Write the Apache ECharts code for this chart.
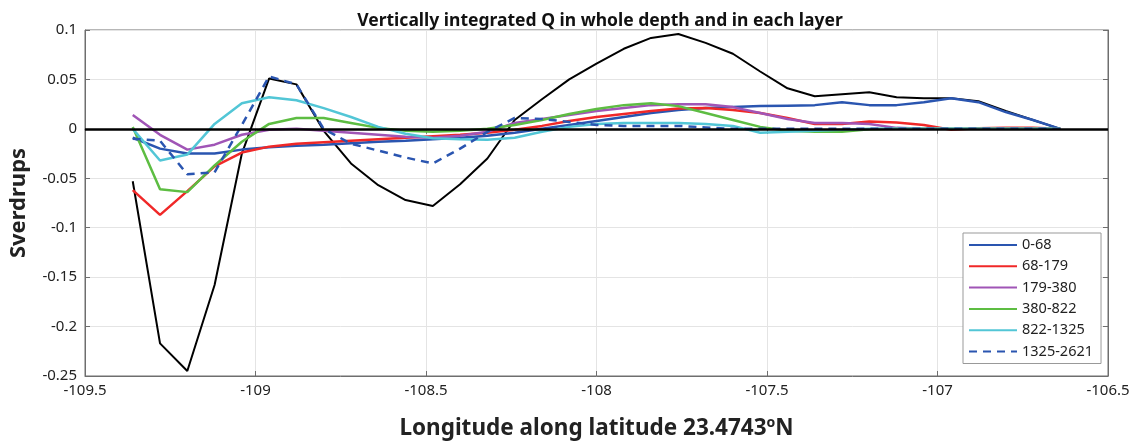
<!DOCTYPE html>
<html lang="en">
<head>
    <meta charset="UTF-8">
    <title>Vertically integrated Q</title>
    <script src="https://cdn.jsdelivr.net/npm/echarts@6/dist/echarts.min.js"></script>
</head>
<body style="margin:0;background:#fff;">
    <div id="main" style="width:1138px;height:445px;"></div>
    <script type="text/javascript">
        // longitudes along 23.4743N
        var lon = [-109.36, -109.28, -109.20, -109.12, -109.04, -108.96, -108.88, -108.80, -108.72,
                   -108.64, -108.56, -108.48, -108.40, -108.32, -108.24, -108.16, -108.08, -108.00,
                   -107.92, -107.84, -107.76, -107.68, -107.60, -107.52, -107.44, -107.36, -107.28,
                   -107.20, -107.12, -107.04, -106.96, -106.88, -106.80, -106.72, -106.64];

        // whole depth (black)
        var total = [-0.053, -0.217, -0.245, -0.158, -0.025, 0.051, 0.045, -0.002, -0.035, -0.057,
                     -0.072, -0.078, -0.056, -0.030, 0.009, 0.030, 0.050, 0.066, 0.081, 0.092,
                     0.096, 0.087, 0.076, 0.058, 0.041, 0.033, 0.035, 0.037, 0.032, 0.031,
                     0.031, 0.028, 0.018, 0.009, 0];

        var q0_68 = [-0.009, -0.020, -0.025, -0.025, -0.021, -0.0185, -0.017, -0.016, -0.0145, -0.013,
                     -0.012, -0.0105, -0.009, -0.007, -0.004, 0.000, 0.004, 0.008, 0.012, 0.016,
                     0.019, 0.021, 0.022, 0.023, 0.0235, 0.024, 0.027, 0.024, 0.024, 0.027,
                     0.031, 0.027, 0.017, 0.009, 0];

        var q68_179 = [-0.062, -0.087, -0.063, -0.038, -0.024, -0.018, -0.015, -0.0135, -0.012, -0.0105,
                       -0.009, -0.0075, -0.006, -0.004, -0.001, 0.003, 0.008, 0.012, 0.015, 0.018,
                       0.0205, 0.021, 0.019, 0.016, 0.011, 0.005, 0.005, 0.0074, 0.0064, 0.004,
                       -0.001, 0.0005, 0.001, 0.0012, 0];

        var q179_380 = [0.014, -0.006, -0.021, -0.016, -0.006, -0.001, 0.000, -0.002, -0.004, -0.006,
                        -0.008, -0.009, -0.007, -0.003, 0.006, 0.010, 0.014, 0.018, 0.021, 0.024,
                        0.025, 0.025, 0.022, 0.016, 0.010, 0.006, 0.006, 0.005, 0.001, 0,
                        0, 0, 0, 0, 0];

        var q380_822 = [0.002, -0.061, -0.064, -0.037, -0.013, 0.005, 0.011, 0.011, 0.006, 0.001,
                        -0.002, -0.003, -0.002, 0.000, 0.004, 0.009, 0.015, 0.020, 0.024, 0.026,
                        0.023, 0.016, 0.009, 0.002, -0.002, -0.003, -0.003, -0.0005, 0, 0,
                        0, 0, 0, 0, 0];

        var q822_1325 = [0.000, -0.032, -0.026, 0.005, 0.026, 0.032, 0.029, 0.021, 0.012, 0.002,
                         -0.005, -0.0095, -0.0105, -0.011, -0.009, -0.003, 0.002, 0.005, 0.006, 0.006,
                         0.006, 0.005, 0.003, -0.004, -0.003, -0.002, -0.001, 0, 0, 0,
                         0, 0, 0, 0, 0];

        var q1325_2621 = [-0.010, -0.012, -0.046, -0.044, 0.004, 0.053, 0.045, 0.000, -0.015, -0.022,
                          -0.029, -0.035, -0.020, -0.003, 0.011, 0.010, 0.007, 0.004, 0.003, 0.003,
                          0.003, 0.0015, 0, 0, 0, 0, 0, 0, 0, 0,
                          0, 0, 0, 0, 0];

        var xTicks = [-109.5, -109, -108.5, -108, -107.5, -107, -106.5];
        var yTicks = [-0.25, -0.2, -0.15, -0.1, -0.05, 0, 0.05, 0.1];

        var layerNames = ['0-68', '68-179', '179-380', '380-822', '822-1325', '1325-2621'];
        var layerData = [q0_68, q68_179, q179_380, q380_822, q822_1325, q1325_2621];
        var layerColors = ['#2a55b0', '#f02828', '#a055b6', '#5dbd42', '#52c6d6', '#2a55b0'];

        function pairs(vals) {
            return lon.map(function (x, i) { return [x, vals[i]]; });
        }

        var font = 'Noto Sans';
        var boxColor = '#6e6e6e';

        var myChart = echarts.init(document.getElementById('main'));

        var series = [{
            name: 'total',
            type: 'line',
            data: pairs(total),
            showSymbol: false,
            symbol: 'none',
            lineStyle: { color: '#000', width: 2 },
            itemStyle: { color: '#000' },
            z: 2
        }];
        layerNames.forEach(function (nm, k) {
            series.push({
                name: nm,
                type: 'line',
                data: pairs(layerData[k]),
                symbol: 'none',
                lineStyle: { color: layerColors[k], width: 2.5, type: k === 5 ? [8, 6] : 'solid' },
                itemStyle: { color: layerColors[k] },
                z: 3
            });
        });
        // zero reference line
        series[series.length - 1].markLine = {
            silent: true,
            symbol: ['none', 'none'],
            label: { show: false },
            lineStyle: { color: '#000', width: 2.5, type: 'solid' },
            data: [{ yAxis: 0 }]
        };

        var option = {
            animation: false,
            backgroundColor: '#fff',
            title: {
                text: 'Vertically integrated Q in whole depth and in each layer',
                left: 595,
                textAlign: 'center',
                top: 7,
                textStyle: { fontFamily: font, fontSize: 17.5, fontWeight: 'bold', color: '#111' }
            },
            grid: { left: 82, right: 30, top: 30, bottom: 68, show: true, borderColor: boxColor, borderWidth: 1 },
            legend: {
                data: layerNames,
                orient: 'vertical',
                left: 963,
                top: 233,
                padding: [4, 8, 4, 5],
                itemWidth: 48,
                itemHeight: 16,
                itemGap: 5.3,
                itemStyle: { opacity: 0 },
                backgroundColor: '#fff',
                borderColor: '#999',
                borderWidth: 1,
                textStyle: { fontFamily: font, fontSize: 14.5, color: '#222', lineHeight: 16 }
            },
            xAxis: [{
                type: 'value',
                min: xTicks[0],
                max: xTicks[xTicks.length - 1],
                interval: 0.5,
                name: 'Longitude along latitude 23.4743{sup|o}N',
                nameLocation: 'middle',
                nameGap: 40,
                nameTextStyle: {
                    fontFamily: font, fontSize: 22.5, fontWeight: 'bold', color: '#222',
                    rich: { sup: { fontFamily: font, fontSize: 14, fontWeight: 'bold', color: '#222', verticalAlign: 'bottom', padding: [0, 0, 11, 0] } }
                },
                axisLine: { show: true, onZero: false, lineStyle: { color: boxColor } },
                axisTick: { inside: true, length: 5, lineStyle: { color: boxColor } },
                axisLabel: { fontFamily: font, fontSize: 15, color: '#222', margin: 7 },
                splitLine: { show: true, lineStyle: { color: '#e4e4e4', width: 1 } }
            }, {
                type: 'value',
                position: 'top',
                min: xTicks[0],
                max: xTicks[xTicks.length - 1],
                interval: 0.5,
                axisLine: { show: true, lineStyle: { color: boxColor } },
                axisTick: { inside: true, length: 5, lineStyle: { color: boxColor } },
                axisLabel: { show: false },
                splitLine: { show: false }
            }],
            yAxis: [{
                type: 'value',
                min: yTicks[0],
                max: yTicks[yTicks.length - 1],
                interval: 0.05,
                name: 'Sverdrups',
                nameLocation: 'middle',
                nameGap: 55,
                nameTextStyle: { fontFamily: font, fontSize: 22, fontWeight: 'bold', color: '#222' },
                axisLine: { show: true, onZero: false, lineStyle: { color: boxColor } },
                axisTick: { inside: true, length: 5, lineStyle: { color: boxColor } },
                axisLabel: { fontFamily: font, fontSize: 15, color: '#222', margin: 8 },
                splitLine: { show: true, lineStyle: { color: '#e4e4e4', width: 1 } }
            }, {
                type: 'value',
                position: 'right',
                min: yTicks[0],
                max: yTicks[yTicks.length - 1],
                interval: 0.05,
                axisLine: { show: true, lineStyle: { color: boxColor } },
                axisTick: { inside: true, length: 5, lineStyle: { color: boxColor } },
                axisLabel: { show: false },
                splitLine: { show: false }
            }],
            series: series
        };

        myChart.setOption(option);
    </script>
</body>
</html>
